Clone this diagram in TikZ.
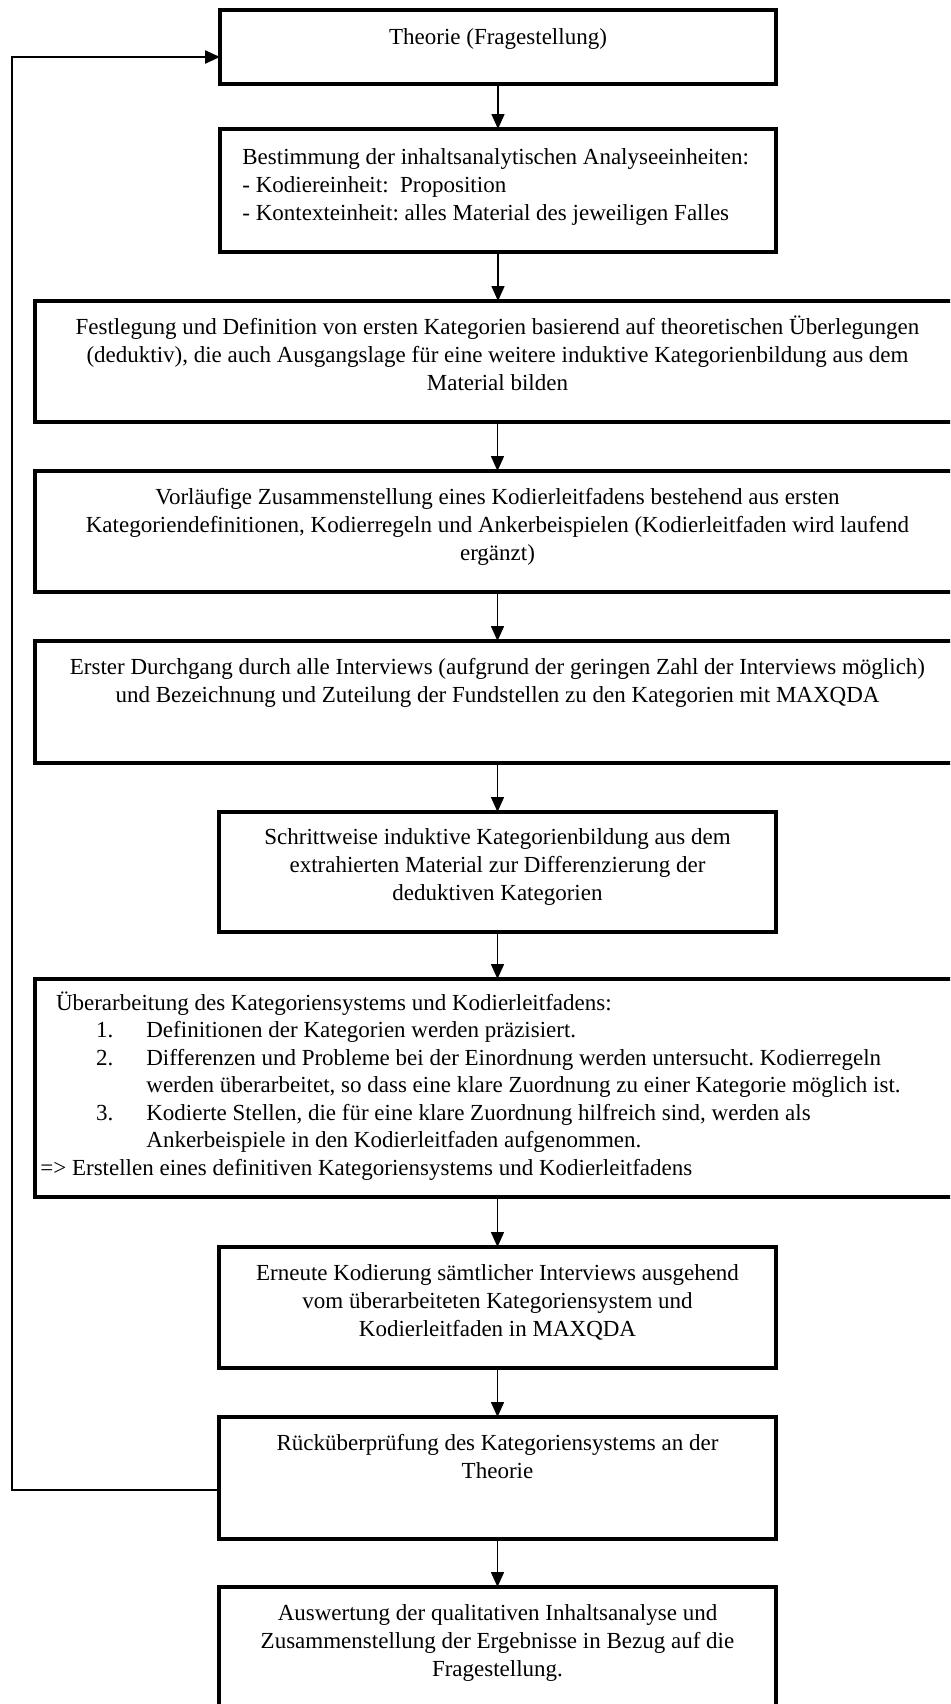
\documentclass[tikz,border=0pt]{standalone}
\usepackage{fontspec}
\setmainfont{Liberation Serif}
\usetikzlibrary{arrows.meta}
\frenchspacing
\begin{document}
\begin{tikzpicture}[x=0.5pt,y=-0.5pt,
  box/.style={draw, line width=1.6pt, anchor=north, inner sep=0pt, outer sep=0pt},
  txt/.style={anchor=north, align=center, inner sep=0pt, font=\fontsize{11.5}{14}\selectfont},
  txtl/.style={anchor=north west, align=left, inner sep=0pt, font=\fontsize{11.5}{14}\selectfont},
  txtlist/.style={anchor=north west, align=left, inner sep=0pt, font=\fontsize{11.5}{13.75}\selectfont},
  arr/.style={line width=0.75pt, -{Triangle[length=7.5pt,width=6.5pt]}},
  fback/.style={line width=1.2pt, -{Triangle[length=7.5pt,width=6.5pt]}}]
\path[use as bounding box] (0,0) rectangle (950,1704);
\clip (0,0) rectangle (950,1704);

% boxes
\node[box, minimum width=278pt, minimum height=37pt] (b1) at (498,10) {};
\node[box, minimum width=278pt, minimum height=61.5pt] (b2) at (498,129) {};
\node[box, minimum width=462.5pt, minimum height=60.5pt] (b3) at (497.5,301) {};
\node[box, minimum width=462.5pt, minimum height=60.5pt] (b4) at (497.5,471) {};
\node[box, minimum width=462.5pt, minimum height=61pt] (b5) at (497.5,641) {};
\node[box, minimum width=278.5pt, minimum height=60pt] (b6) at (497.5,812) {};
\node[box, minimum width=462.5pt, minimum height=109pt] (b7) at (497.5,979) {};
\node[box, minimum width=278.5pt, minimum height=60.5pt] (b8) at (497.5,1247) {};
\node[box, minimum width=278.5pt, minimum height=61pt] (b9) at (497.5,1417) {};
\node[box, minimum width=278.5pt, minimum height=63pt] (b10) at (497.5,1587) {};

% texts
\node[txt] (t1) at (498,24.4) {\strut Theorie (Fragestellung)};
\node[txtl] (t2) at (242,144.4) {\strut Bestimmung der inhaltsanalytischen Analyseeinheiten:\\
- Kodiereinheit:\ \ Proposition\\
- Kontexteinheit: alles Material des jeweiligen Falles};
\node[txt] (t3) at (497.5,314.4) {\strut Festlegung und Definition von ersten Kategorien basierend auf theoretischen Überlegungen\\
(deduktiv), die auch Ausgangslage für eine weitere induktive Kategorienbildung aus dem\\
Material bilden};
\node[txt] (t4) at (497.5,484.4) {\strut Vorläufige Zusammenstellung eines Kodierleitfadens bestehend aus ersten\\
Kategoriendefinitionen, Kodierregeln und Ankerbeispielen (Kodierleitfaden wird laufend\\
ergänzt)};
\node[txt] (t5) at (497.5,654.4) {\strut Erster Durchgang durch alle Interviews (aufgrund der geringen Zahl der Interviews möglich)\\
und Bezeichnung und Zuteilung der Fundstellen zu den Kategorien mit MAXQDA};
\node[txt] (t6) at (497.5,824.4) {\strut Schrittweise induktive Kategorienbildung aus dem\\
extrahierten Material zur Differenzierung der\\
deduktiven Kategorien};
\node[txtlist] (t7) at (40,990.5) {\strut\hspace*{7.8pt}Überarbeitung des Kategoriensystems und Kodierleitfadens:\\
\hspace*{27.8pt}\makebox[25.2pt][l]{1.}Definitionen der Kategorien werden präzisiert.\\
\hspace*{27.8pt}\makebox[25.2pt][l]{2.}Differenzen und Probleme bei der Einordnung werden untersucht. Kodierregeln\\
\hspace*{53pt}werden überarbeitet, so dass eine klare Zuordnung zu einer Kategorie möglich ist.\\
\hspace*{27.8pt}\makebox[25.2pt][l]{3.}Kodierte Stellen, die für eine klare Zuordnung hilfreich sind, werden als\\
\hspace*{53pt}Ankerbeispiele in den Kodierleitfaden aufgenommen.\\
=> Erstellen eines definitiven Kategoriensystems und Kodierleitfadens};
\node[txt] (t8) at (497.5,1260.4) {\strut Erneute Kodierung sämtlicher Interviews ausgehend\\
vom überarbeiteten Kategoriensystem und\\
Kodierleitfaden in MAXQDA};
\node[txt] (t9) at (497.5,1430.4) {\strut Rücküberprüfung des Kategoriensystems an der\\
Theorie};
\node[txt] (t10) at (497.5,1600.4) {\strut Auswertung der qualitativen Inhaltsanalyse und\\
Zusammenstellung der Ergebnisse in Bezug auf die\\
Fragestellung.};

% arrows
\draw[arr] (b1.south) -- (b1.south |- b2.north);
\draw[arr] (b2.south) -- (b2.south |- b3.north);
\draw[arr] (b3.south) -- (b4.north);
\draw[arr] (b4.south) -- (b5.north);
\draw[arr] (b5.south) -- (b6.north);
\draw[arr] (b6.south) -- (b7.north);
\draw[arr] (b7.south) -- (b8.north);
\draw[arr] (b8.south) -- (b9.north);
\draw[arr] (b9.south) -- (b10.north);

% feedback loop
\coordinate (fbBottom) at (12,1490);
\coordinate (fbTop) at (12,57);
\draw[fback] (b9.west |- fbBottom) -- (fbBottom) -- (fbTop) -- (fbTop -| b1.west);
\end{tikzpicture}
\end{document}
